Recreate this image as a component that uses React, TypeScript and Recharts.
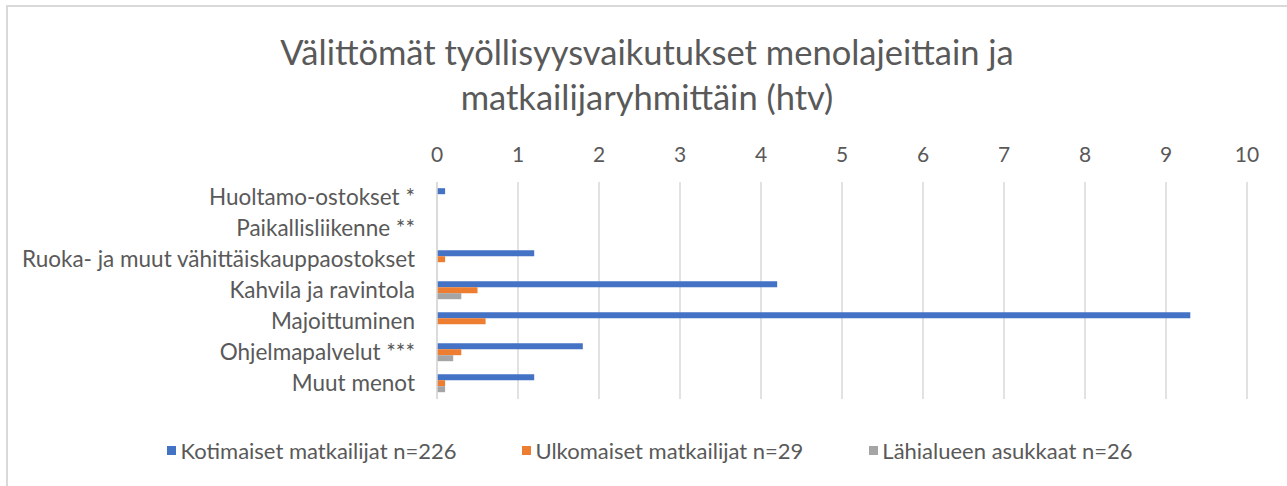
import React from "react";
import {
  BarChart,
  Bar,
  XAxis,
  YAxis,
  CartesianGrid,
  Legend,
} from "recharts";

const categories = [
  "Huoltamo-ostokset *",
  "Paikallisliikenne **",
  "Ruoka- ja muut vähittäiskauppaostokset",
  "Kahvila ja ravintola",
  "Majoittuminen",
  "Ohjelmapalvelut ***",
  "Muut menot ",
];
const kotimaiset = [0.1, 0, 1.2, 4.2, 9.3, 1.8, 1.2];
const ulkomaiset = [0, 0, 0.1, 0.5, 0.6, 0.3, 0.1];
const lahialue = [0, 0, 0, 0.3, 0, 0.2, 0.1];
const xTicks = [0, 1, 2, 3, 4, 5, 6, 7, 8, 9, 10];

const series = [
  { key: "kotimaiset", name: "Kotimaiset matkailijat n=226", color: "#4472c4" },
  { key: "ulkomaiset", name: "Ulkomaiset matkailijat n=29", color: "#ed7d31" },
  { key: "lahialue", name: "Lähialueen asukkaat n=26", color: "#a5a5a5" },
];

const FONT = "Lato, 'Open Sans', sans-serif";
const TEXT = "#595959";
const GRID = "#d9d9d9";

const data = categories.map((name, i) => ({
  name,
  kotimaiset: kotimaiset[i],
  ulkomaiset: ulkomaiset[i],
  lahialue: lahialue[i],
}));

// legend in the original series order (recharts sorts by name otherwise)
const renderLegend = () => (
  <div
    style={{
      display: "flex",
      justifyContent: "center",
      gap: 66,
      fontSize: 22,
      fontFamily: FONT,
      color: TEXT,
      whiteSpace: "nowrap",
    }}
  >
    {series.map((s) => (
      <div key={s.key} style={{ display: "flex", alignItems: "center" }}>
        <span
          style={{
            display: "inline-block",
            width: 9,
            height: 9,
            background: s.color,
            marginRight: 4,
          }}
        />
        {s.name}
      </div>
    ))}
  </div>
);

export default function App() {
  return (
    <div
      style={{
        position: "absolute",
        left: 0,
        top: 0,
        width: 1287,
        height: 486,
        overflow: "hidden",
        background: "#fff",
        fontFamily: FONT,
      }}
    >
      {/* chart frame */}
      <div
        style={{
          position: "absolute",
          left: 6,
          top: 5,
          width: 1300,
          height: 500,
          border: `2px solid ${GRID}`,
        }}
      />
      <div
        style={{
          position: "absolute",
          left: 0,
          width: 1294,
          top: 29,
          textAlign: "center",
          color: TEXT,
          fontSize: 34.5,
          lineHeight: "45px",
          whiteSpace: "nowrap",
        }}
      >
        Välittömät työllisyysvaikutukset menolajeittain ja
        <br />
        matkailijaryhmittäin (htv)
      </div>
      <div style={{ position: "absolute", left: 0, top: 0 }}>
        <BarChart
          width={1287}
          height={486}
          data={data}
          layout="vertical"
          margin={{ top: 152, right: 40, left: 0, bottom: 87 }}
          barCategoryGap="20%"
          barGap={0}
        >
          <CartesianGrid
            horizontal={false}
            stroke={GRID}
            strokeWidth={1.5}
          />
          <XAxis
            type="number"
            orientation="top"
            domain={[0, 10]}
            ticks={xTicks}
            axisLine={false}
            tickLine={false}
            tickMargin={14}
            height={30}
            tick={{ fill: TEXT, fontSize: 21, fontFamily: FONT }}
          />
          <YAxis
            type="category"
            dataKey="name"
            width={437}
            axisLine={{ stroke: GRID, strokeWidth: 1.5 }}
            tickLine={false}
            tickMargin={16}
            interval={0}
            tick={{ fill: TEXT, fontSize: 22.5, fontFamily: FONT }}
          />
          <Legend
            layout="horizontal"
            verticalAlign="middle"
            align="center"
            content={renderLegend}
            wrapperStyle={{ top: 437, left: 0, width: 1300 }}
          />
          {series.map((s) => (
            <Bar
              key={s.key}
              dataKey={s.key}
              name={s.name}
              fill={s.color}
              isAnimationActive={false}
            />
          ))}
        </BarChart>
      </div>
    </div>
  );
}
